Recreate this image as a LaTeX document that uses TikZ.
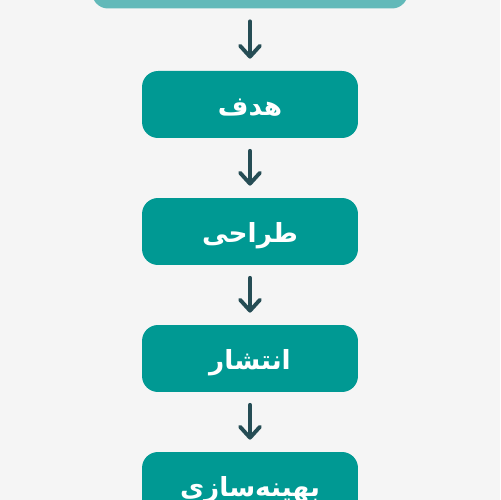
\documentclass[tikz,border=0pt]{standalone}
\usepackage{fontspec}
\newfontfamily\arabicfont[Script=Arabic]{DejaVu Sans}
\TeXXeTstate=1
\usetikzlibrary{arrows.meta}
\definecolor{bgcol}{HTML}{F5F5F5}
\definecolor{boxcol}{HTML}{009993}
\definecolor{topcol}{HTML}{62B9B9}
\definecolor{arrcol}{HTML}{264D55}
\newcommand{\fatext}[1]{\raisebox{-0.22cm}[0pt][0pt]{\beginR #1\endR}}
\tikzset{
  stepbox/.style={fill=boxcol, rounded corners=0.32cm, minimum width=4.32cm,
    minimum height=1.34cm, inner sep=0pt, text=white,
    font=\arabicfont\bfseries\fontsize{15}{17}\selectfont},
  flow/.style={draw=arrcol, line width=2.2pt, line cap=round, shorten <=0.25cm, shorten >=0.24cm,
    -{Straight Barb[length=0.22cm,width=0.4cm,line cap=round,line join=round]}}
}
\begin{document}
\begin{tikzpicture}[x=0.02cm,y=0.02cm]

\clip (0,0) rectangle (500,500);
\fill[bgcol] (0,0) rectangle (500,500);

\node[stepbox, fill=topcol, minimum width=6.32cm] (top) at (250,525) {};
\node[stepbox] (goal) at (250,395.5) {\fatext{هدف}};
\node[stepbox] (design) at (250,268.5) {\fatext{طراحی}};
\node[stepbox] (publish) at (250,141.5) {\fatext{انتشار}};
\node[stepbox] (optimize) at (250,14.5) {\fatext{بهینه‌سازی}};

% arrows
\draw[flow] (top) -- (goal);
\draw[flow] (goal) -- (design);
\draw[flow] (design) -- (publish);
\draw[flow] (publish) -- (optimize);

\end{tikzpicture}
\end{document}
